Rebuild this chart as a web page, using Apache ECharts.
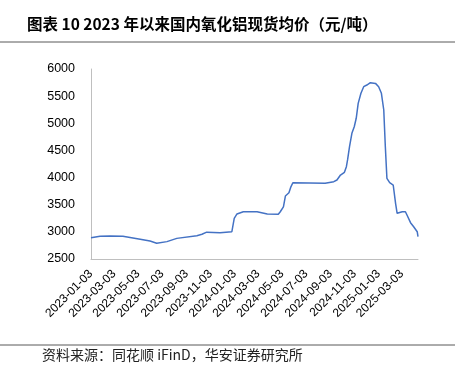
<!DOCTYPE html>
<html>
<head>
<meta charset="utf-8">
<script src="https://cdn.jsdelivr.net/npm/echarts@6/dist/echarts.min.js"></script>
<style>
html,body{margin:0;padding:0;background:#fff;}
#chart{width:465px;height:370px;}
</style>
</head>
<body>
<div id="chart"></div>
<script>
var titleText = '图表 10 2023 年以来国内氧化铝现货均价（元/吨）';
var sourceText = '资料来源：同花顺 iFinD，华安证券研究所';
var axisStart = '2023-01-03';
var axisEnd = '2025-04-13';
var tickLabels = ['2023-01-03','2023-03-03','2023-05-03','2023-07-03','2023-09-03','2023-11-03',
  '2024-01-03','2024-03-03','2024-05-03','2024-07-03','2024-09-03','2024-11-03','2025-01-03','2025-03-03'];
var priceDates = ['2023-01-03','2023-01-26','2023-02-20','2023-03-25','2023-05-08','2023-06-02','2023-06-19',
  '2023-07-15','2023-08-09','2023-09-29','2023-10-12','2023-10-24','2023-11-27','2023-12-27',
  '2024-01-02','2024-01-09','2024-01-25','2024-02-29','2024-03-26','2024-04-23','2024-04-28',
  '2024-05-06','2024-05-11','2024-05-20','2024-05-25','2024-05-30','2024-08-20','2024-09-11',
  '2024-09-19','2024-09-28','2024-10-08','2024-10-13','2024-10-16','2024-10-21','2024-10-27',
  '2024-11-02','2024-11-07','2024-11-12','2024-11-19','2024-11-26','2024-12-04','2024-12-13',
  '2024-12-26','2025-01-03','2025-01-10','2025-01-16','2025-01-20','2025-01-24','2025-01-31',
  '2025-02-09','2025-02-15','2025-02-19','2025-02-23','2025-03-04','2025-03-12','2025-03-16',
  '2025-03-25','2025-04-02','2025-04-11','2025-04-13'];
var priceValues = [2890,2920,2925,2920,2865,2830,2790,
  2820,2880,2930,2955,2995,2985,3003,
  3250,3330,3370,3370,3330,3325,3370,
  3460,3660,3720,3830,3905,3895,3925,
  3955,4047,4097,4200,4324,4569,4815,
  4937,5092,5367,5552,5674,5705,5747,
  5735,5674,5552,5245,4569,3986,3906,
  3863,3526,3342,3329,3371,3371,3310,
  3169,3095,3003,2911];
var yMin = 2500, yMax = 6000, yStep = 500;

function pad(n){return n<10?'0'+n:''+n;}
var categories = [];
(function(){
  var d = new Date(axisStart + 'T00:00:00Z');
  var e = new Date(axisEnd + 'T00:00:00Z');
  while (d <= e) {
    categories.push(d.getUTCFullYear()+'-'+pad(d.getUTCMonth()+1)+'-'+pad(d.getUTCDate()));
    d.setUTCDate(d.getUTCDate()+1);
  }
})();
var seriesData = priceDates.map(function(dt,i){return [dt, priceValues[i]];});
var tickSet = {};
tickLabels.forEach(function(t){tickSet[t]=true;});

var chart = echarts.init(document.getElementById('chart'), null, {renderer:'canvas'});
chart.setOption({
  animation:false,
  backgroundColor:'#fff',
  textStyle:{fontFamily:'"Liberation Sans", Arial, sans-serif'},
  graphic:[
    {type:'text', left:27, top:16, style:{text:titleText, fill:'#000', font:'bold 15.5px "Noto Sans CJK SC", sans-serif'}},
    {type:'line', shape:{x1:0,y1:42,x2:455,y2:42}, style:{stroke:'#595959', lineWidth:1}},
    {type:'line', shape:{x1:0,y1:345,x2:455,y2:345}, style:{stroke:'#595959', lineWidth:1}},
    {type:'text', left:42, top:348, style:{text:sourceText, fill:'#222', font:'14px "Noto Sans CJK SC", sans-serif'}}
  ],
  grid:{left:91, right:47, top:69, bottom:111, containLabel:false},
  xAxis:{
    type:'category',
    data:categories,
    boundaryGap:false,
    axisLine:{lineStyle:{color:'#bfbfbf', width:1}},
    axisTick:{show:false},
    axisLabel:{
      interval:function(idx,val){return !!tickSet[val];},
      rotate:45, margin:13, color:'#000', fontSize:12,
      fontFamily:'"Liberation Sans", Arial, sans-serif'
    },
    splitLine:{show:false}
  },
  yAxis:{
    type:'value', min:yMin, max:yMax, interval:yStep,
    axisLine:{show:true, lineStyle:{color:'#bfbfbf', width:1}},
    axisTick:{show:false},
    splitLine:{show:false},
    axisLabel:{margin:16, color:'#000', fontSize:12.5, formatter:function(v){return String(v);},
      fontFamily:'"Liberation Sans", Arial, sans-serif'}
  },
  series:[{
    type:'line', data:seriesData, showSymbol:false, connectNulls:true,
    lineStyle:{color:'#4472C4', width:1.5}, itemStyle:{color:'#4472C4'}
  }]
});
</script>
</body>
</html>
